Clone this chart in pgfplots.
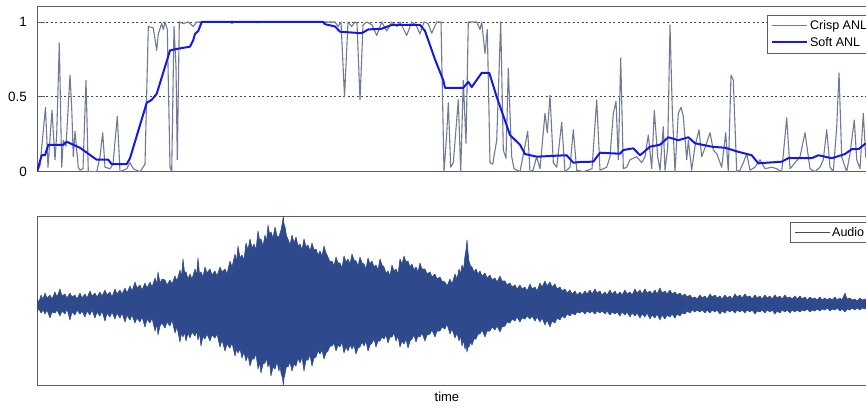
\documentclass[border=0pt]{standalone}
\usepackage{fontspec}
\setmainfont{Liberation Sans}
\setsansfont{Liberation Sans}
\usepackage{pgfplots}
\usepackage{pgfplotstable}
\pgfplotsset{compat=1.18}
\usepgfplotslibrary{fillbetween}
\definecolor{crisp}{RGB}{112,122,148}
\definecolor{soft}{RGB}{20,24,235}
\definecolor{audio}{RGB}{46,74,140}
\definecolor{frame}{RGB}{95,95,95}
\definecolor{gridc}{RGB}{70,70,70}

\pgfplotstableread{
x v
37 0
41.7 0.11
45 0.11
48.3 0.18
63.3 0.18
66.7 0.20
73.3 0.18
80 0.16
88.3 0.12
96.7 0.08
108.3 0.08
111.7 0.05
126.7 0.05
130 0.09
146.7 0.46
151.7 0.48
156.7 0.52
170 0.81
176.7 0.82
190 0.835
193.3 0.88
195 0.92
198.3 0.94
201.7 1.0
323 1.0
325 0.985
335 0.97
340 0.935
361.7 0.925
368.3 0.95
381.7 0.955
391.7 0.98
420 0.98
425 0.94
435 0.75
443.3 0.61
445 0.56
463.3 0.56
468.3 0.60
471.7 0.565
481.7 0.66
489.3 0.66
496.7 0.50
510 0.245
520 0.18
525 0.118
536.7 0.10
550 0.105
566.7 0.11
573.3 0.06
580 0.065
593.3 0.067
600 0.127
620 0.12
623.3 0.145
633.3 0.156
640 0.11
650 0.167
660 0.18
668.3 0.23
678.3 0.21
688.3 0.23
695 0.19
711.7 0.167
725 0.16
738.3 0.133
751.7 0.11
758.3 0.056
781.7 0.067
788.3 0.09
811.7 0.09
818.3 0.11
831.7 0.09
845 0.118
851.7 0.15
858.3 0.15
865 0.185
877 0.2
}\soft

\pgfplotstableread{
x v
37 0
40 0.04
45.5 0.43
48 0.03
52 0.41
55 0.08
56.7 0.25
59.3 0.86
61.7 0.03
63.3 0.21
66 0.17
70 0.645
71.7 0.43
73.3 0.10
75 0.27
78.3 0.03
80 0.01
83 0.02
86 0.61
88.3 0
96.7 0
100 0.10
102.7 0.26
105 0.03
110 0.02
113 0.05
117.3 0.37
120 0
126.7 0.02
130 0.06
133.3 0.02
140 0
145 0.05
148.3 0.97
153.3 0.96
156.7 0.81
158.3 0.92
161.7 0.99
163.3 0.95
165 1.0
167.3 0.95
170 0.03
171.7 0
174 0.97
176 0.70
177.3 0.08
179.3 1.0
183.3 0.99
188.3 1.0
193.3 0.97
196.7 1.0
230 1.0
232 0.99
234 1.0
255 1.0
258 0.995
262 1.0
335 1.0
338 0.97
341 1.0
344.5 0.5
348 1.0
351.7 0.97
355 1.0
357 0.99
360 0.48
363 0.98
366.7 1.0
372 0.98
376.7 0.91
381.7 1.0
386.7 0.94
391.7 1.0
397 0.97
400 1.0
406.7 0.91
411.7 1.0
416 0.98
420 0.92
424 1.0
428 0.99
431.7 0.925
436.7 1.0
441 1.0
444 0
446.7 0.25
448.3 0.46
450.7 0.03
453.3 0.06
458.3 0.48
460.7 0
463.3 0.61
466 0.19
468.3 1.0
476.7 1.0
480 0.95
481.7 1.0
485 0.79
487.3 0.95
490 0.06
492.7 0.05
496.7 0.21
500.7 1.0
503.3 0.145
506 0.09
508.3 0.69
511.7 0.10
514 0.02
520 0
527.7 0.27
530 0
533 0.01
536.7 0.10
540 0.02
545 0.39
547.3 0.26
550 0.51
553.3 0.06
556.7 0.03
561.7 0.33
565 0
570 0.03
573.3 0.28
576.7 0.01
583.3 0
588 0.01
592 0.02
596.7 0.48
600 0.01
606.7 0.03
610 0.10
613.3 0.39
616 0.47
618.3 0.08
620.7 0.76
623.3 0.02
626.7 0.03
630 0.08
636.7 0.10
641.7 0.06
645 0.10
648.3 0.245
651.7 0.02
654.3 0.41
657.7 0.10
660 0.01
663.3 0.30
665 0.01
667.7 0.16
670 0.98
672.3 0.41
675 0
678.3 0.39
681 0.43
683.3 0.37
686.7 0.08
688.3 0.21
691.7 0.01
695 0.17
699 0.28
701.7 0.10
705 0.16
710 0.26
713.3 0.145
716.7 0.12
721.7 0.03
725.7 0.26
728.3 0
731 0.645
733.3 0.61
736.7 0
740 0.01
743.3 0.06
746.7 0.12
750 0.01
755 0.03
760 0.08
765 0.02
771.7 0.03
776.7 0.02
781.7 0
786.7 0.36
790 0.02
795 0.06
800 0.10
805 0.26
810 0.02
815 0
820 0.03
823.3 0.08
826.7 0.28
830 0.03
833.3 0
836.7 0.30
839 0.66
841.7 0.10
846.7 0
850 0.12
854.3 0.345
856.7 0.08
860 0.02
863.3 0.39
865.7 0.10
870 0.05
877 0.2
}\crisp

\pgfplotstableread{
x up lo
37 299 311
39 302 309
41 295 313
43 299 310
45 293 314
47 298 310
50 295 318
52 299 312
55 292 313
57 297 310
60 289 316
62 296 311
65 294 314
67 298 309
70 293 320
72 297 312
75 295 315
77 299 310
80 293 314
82 298 311
85 294 317
87 298 311
90 291 315
92 296 310
95 293 318
97 297 312
100 292 316
102 296 311
105 290 321
107 295 313
110 292 317
112 297 312
115 289 319
117 294 313
120 290 318
122 294 313
125 288 322
127 293 315
130 286 320
132 291 315
135 282 323
137 288 318
140 285 322
142 290 317
145 283 327
147 288 319
150 282 323
152 287 318
155 278 331
157 284 324
158 272 335
160 283 326
162 279 323
165 280 328
167 285 322
170 280 326
172 284 320
175 276 333
177 281 327
180 270 342
181.5 277 333
183 259 337
184.5 272 332
186 272 341
188 279 333
190 274 338
192 279 332
195 269 336
196.5 276 331
198 258 340
199.5 274 333
201 272 346
203 277 336
205 267 339
207 273 334
210 269 341
212 275 335
215 271 338
217 276 334
220 267 347
222 272 340
225 269 351
227 274 344
230 261 348
232 267 343
235 254 356
236.5 262 349
238 246 353
240 258 349
242 255 358
244 260 352
246 243 361
248 250 355
250 239 366
252 248 359
254 244 359
256 250 354
258 231 369
259.5 240 362
261 239 373
263 246 364
265 235 363
266.5 242 358
268 225 367
269.5 234 362
271 232 376
273 238 367
275 227 369
277 236 362
279 237 371
280 233 365
281 230 373
282.5 222 378
283.3 216 385
284 224 378
285 227 374
286.5 236 366
288 239 367
290 245 362
292 235 371
294 243 364
296 237 366
298 246 358
300 244 363
302 250 357
304 239 371
306 247 360
308 245 360
310 251 355
312 243 366
314 250 358
316 249 357
318 255 351
320 251 354
322 256 350
324 246 359
326 253 353
328 257 351
330 262 346
332 261 346
334 266 343
336 257 351
338 263 345
340 263 347
342 268 342
344 256 353
346 262 347
348 259 351
350 264 345
352 254 349
354 260 345
356 261 354
358 266 348
360 257 347
362 263 342
364 264 346
366 269 341
368 258 351
370 264 345
372 261 343
374 267 339
376 265 347
378 270 341
380 259 341
382 265 337
384 267 339
386 273 335
388 271 343
390 276 337
392 265 337
394 271 333
396 269 341
398 274 336
400 259 347
402 264 341
404 256 344
406 262 339
408 261 348
410 267 341
412 264 339
414 270 335
416 267 342
418 272 336
420 263 337
422 269 333
425 269 341
427 274 335
430 272 334
432 277 330
435 274 337
437 279 331
440 277 331
442 281 327
445 282 329
447 286 324
450 279 334
452 284 329
455 274 338
457 279 333
459 269 341
460.5 274 336
462 265 346
463.5 270 340
465 256 349
466 250 345
467 240 352
468 252 347
469 261 347
470.5 266 342
472 267 345
474 272 339
476 269 339
478 274 334
480 271 334
482 276 330
485 273 337
487 278 331
490 275 331
492 280 327
495 278 330
497 282 326
500 276 332
502 281 327
505 281 326
507 285 322
510 283 323
512 287 319
515 285 321
517 289 317
520 285 322
522 289 318
525 287 319
527 291 316
530 284 319
532 289 316
535 287 321
537 291 317
540 283 322
542 287 318
545 281 325
547 286 320
550 282 327
552 287 321
555 284 323
557 289 318
560 287 320
562 291 316
565 289 318
567 293 314
570 290 316
572 294 313
575 291 315
577 295 312
580 292 313
582 295 311
585 291 314
587 294 311
590 290 313
592 294 311
595 289 314
597 293 311
600 291 313
602 295 311
605 292 314
607 295 311
610 290 315
612 294 312
615 291 314
617 295 312
620 292 316
622 295 312
625 290 315
627 294 312
630 292 317
632 295 313
635 289 316
637 293 313
640 290 318
642 294 314
645 289 317
647 293 313
650 291 319
652 294 315
655 290 318
657 294 314
660 288 320
662 293 315
665 291 319
667 294 315
670 290 317
672 294 314
675 292 318
677 295 314
680 293 316
682 296 313
685 294 314
687 297 311
690 295 313
692 298 310
695 297 312
697 299 310
700 295 312
702 298 310
705 296 313
707 299 310
710 294 313
712 297 310
715 295 312
717 298 310
720 296 314
722 299 311
725 295 313
727 298 310
730 296 312
732 299 310
735 294 313
737 297 310
740 295 312
742 298 310
745 294 313
747 297 310
750 296 312
752 299 310
755 295 314
757 298 311
760 296 312
762 299 310
765 295 313
767 298 310
770 296 312
772 299 310
775 295 314
777 298 311
780 296 313
782 299 310
785 295 312
787 298 310
790 297 313
792 299 310
795 296 312
797 299 310
800 296 312
802 299 310
805 297 311
807 300 309
810 297 312
812 299 310
815 298 311
817 300 309
820 297 311
822 300 309
825 298 310
827 300 308
830 298 311
832 300 309
835 297 310
837 300 308
840 298 311
842 300 309
845 293 312
847 299 309
850 298 310
852 300 308
855 299 310
857 301 308
860 298 310
862 300 308
865 299 309
867 301 308
877 300 308
}\wave

\begin{document}
\begin{tikzpicture}[x=1pt,y=1pt]
\pgfplotsset{
  every axis/.append style={
    scale only axis,
    width=840pt,
    xmin=37, xmax=877,
    axis line style={draw=frame, line width=1pt},
    xtick=\empty,
    tick align=inside,
    legend cell align=left,
    legend image code/.code={\draw[#1] (0pt,0pt) -- (35pt,0pt);},
    legend style={draw=frame, line width=0.8pt, fill=white,
      font=\fontsize{12.5}{14}\selectfont,
      inner xsep=4pt, inner ysep=3.5pt, row sep=2pt,
      nodes={inner sep=2pt}},
  },
}
\begin{axis}[
  at={(37pt,-171.7pt)}, anchor=south west,
  height=165pt,
  ymin=0, ymax=1.102,
  ytick={0,0.5,1},
  ytick pos=left,
  major tick length=8pt,
  tick style={draw=frame, line width=0.8pt},
  ymajorgrids,
  grid style={draw=gridc, line width=0.8pt, dash pattern=on 2pt off 2.5pt},
  /pgf/number format/assume math mode=true,
  yticklabel style={font=\fontsize{13.5}{15}\selectfont, inner sep=0pt, xshift=-10pt},
  legend style={at={(axis description cs:0.8687,0.952)}, anchor=north west},
]
\addplot[crisp, line width=1.1pt, line join=round] table[x=x,y=v]{\crisp};
\addlegendentry{Crisp ANL}
\addplot[soft, line width=2pt, line join=round] table[x=x,y=v]{\soft};
\addlegendentry{Soft ANL}
\end{axis}

\begin{axis}[
  at={(37pt,-385pt)}, anchor=south west,
  height=169pt,
  ymin=216, ymax=385, y dir=reverse,
  ytick=\empty,
  xlabel={time},
  xlabel style={at={(axis description cs:0.488,0)}, anchor=north, inner sep=0pt, yshift=-7pt, font=\fontsize{13}{15}\selectfont},
  legend style={at={(axis description cs:0.8964,0.9627)}, anchor=north west, inner ysep=2.5pt},
]
\addplot[audio, line width=0.8pt] coordinates {(0,0)};
\addlegendentry{Audio}
\addplot[name path=U, draw=audio, line width=0.6pt, line join=round, forget plot] table[x=x,y=up]{\wave};
\addplot[name path=L, draw=audio, line width=0.6pt, line join=round, forget plot] table[x=x,y=lo]{\wave};
\addplot[fill=audio, forget plot] fill between[of=U and L];
\end{axis}
\pgfresetboundingbox
\path[use as bounding box] (0pt,0pt) rectangle (866pt,-407pt);
\end{tikzpicture}
\end{document}
